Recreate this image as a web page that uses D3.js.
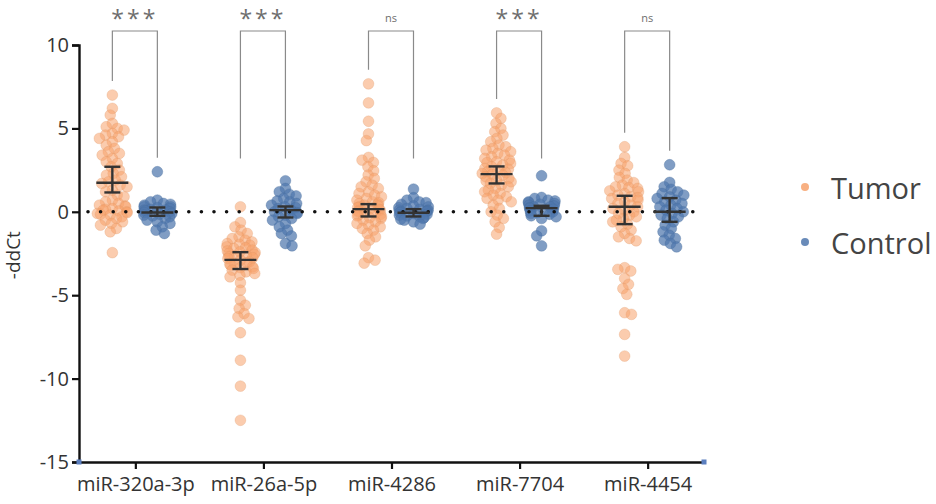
<!DOCTYPE html>
<html>
<head>
<meta charset="utf-8">
<script src="https://cdn.jsdelivr.net/npm/d3@7"></script>
<style>
  body { margin: 0; background: #fff; }
  svg { display: block; font-family: "Open Sans", "Noto Sans", sans-serif; }
</style>
</head>
<body>
<div id="chart"></div>
<script>
const categories = ["miR-320a-3p", "miR-26a-5p", "miR-4286", "miR-7704", "miR-4454"];
const significance = ["***", "***", "ns", "***", "ns"];
const yTicks = [-15, -10, -5, 0, 5, 10];

// -ddCt values
const tumor = [
  [7.0, 6.2, 5.8, 5.3, 5.1, 5.0, 4.9, 4.7, 4.6, 4.5, 4.4, 4.2, 4.0, 3.8, 3.6, 3.5, 3.4, 3.2, 3.0, 2.9, 2.7, 2.5, 2.3, 2.2, 2.1, 1.9, 1.8, 1.7, 1.6, 1.5, 1.3, 1.2, 1.0, 0.9, 0.7, 0.6, 0.5, 0.4, 0.35, 0.3, 0.2, 0.15, 0.1, 0.05, 0.0, -0.05, -0.1, -0.15, -0.2, -0.3, -0.4, -0.5, -0.6, -0.7, -0.8, -1.0, -1.2, -2.45],
  [0.3, -0.64, -0.9, -1.1, -1.3, -1.5, -1.6, -1.7, -1.8, -1.9, -1.95, -2.0, -2.1, -2.15, -2.2, -2.3, -2.35, -2.4, -2.45, -2.5, -2.55, -2.6, -2.65, -2.7, -2.75, -2.8, -2.9, -3.0, -3.05, -3.1, -3.15, -3.2, -3.3, -3.35, -3.4, -3.5, -3.6, -3.7, -3.8, -3.9, -4.25, -4.7, -5.3, -5.6, -5.8, -6.1, -6.3, -6.4, -7.25, -8.9, -10.45, -12.5],
  [7.67, 6.53, 5.43, 4.67, 4.27, 3.26, 3.1, 2.96, 2.7, 2.46, 2.2, 2.0, 1.8, 1.6, 1.5, 1.4, 1.2, 1.1, 1.0, 0.9, 0.8, 0.7, 0.6, 0.55, 0.5, 0.45, 0.4, 0.35, 0.3, 0.25, 0.2, 0.15, 0.1, 0.05, 0.0, -0.05, -0.1, -0.15, -0.2, -0.25, -0.3, -0.35, -0.4, -0.5, -0.6, -0.7, -0.8, -0.9, -1.0, -1.1, -1.3, -1.5, -1.7, -2.04, -2.75, -2.9, -3.08],
  [5.93, 5.6, 5.3, 5.0, 4.8, 4.6, 4.4, 4.2, 4.0, 3.9, 3.8, 3.7, 3.6, 3.5, 3.4, 3.3, 3.2, 3.1, 3.0, 2.95, 2.9, 2.8, 2.7, 2.6, 2.55, 2.5, 2.4, 2.35, 2.3, 2.25, 2.2, 2.1, 2.0, 1.9, 1.85, 1.8, 1.7, 1.6, 1.5, 1.4, 1.3, 1.2, 1.1, 1.0, 0.9, 0.8, 0.7, 0.6, 0.4, 0.2, 0.0, -0.2, -0.4, -0.6, -0.94, -1.34],
  [3.9, 3.26, 2.9, 2.76, 2.5, 2.3, 2.06, 1.9, 1.75, 1.6, 1.5, 1.45, 1.4, 1.26, 1.2, 1.1, 1.0, 0.9, 0.85, 0.8, 0.7, 0.6, 0.5, 0.4, 0.3, 0.2, 0.1, 0.0, -0.1, -0.2, -0.3, -0.4, -0.5, -0.6, -0.74, -0.9, -1.1, -1.3, -1.5, -1.6, -1.74, -3.35, -3.45, -3.55, -4.0, -4.35, -4.6, -4.95, -6.05, -6.15, -7.35, -8.65]
];
const control = [
  [2.4, 0.7, 0.6, 0.5, 0.45, 0.4, 0.3, 0.3, 0.25, 0.2, 0.15, 0.1, 0.1, 0.05, 0.0, -0.05, -0.1, -0.15, -0.2, -0.25, -0.3, -0.4, -0.5, -0.6, -0.7, -0.9, -1.1, -1.3],
  [1.86, 1.4, 1.2, 1.05, 0.95, 0.8, 0.65, 0.6, 0.5, 0.4, 0.3, 0.25, 0.2, 0.1, 0.0, -0.05, -0.1, -0.2, -0.3, -0.4, -0.5, -0.7, -0.9, -1.1, -1.3, -1.45, -1.9, -2.04],
  [1.36, 0.85, 0.7, 0.6, 0.55, 0.45, 0.35, 0.3, 0.25, 0.2, 0.15, 0.1, 0.1, 0.05, 0.0, 0.0, -0.05, -0.1, -0.15, -0.2, -0.25, -0.3, -0.35, -0.4, -0.45, -0.5, -0.6, -0.74],
  [2.16, 0.86, 0.8, 0.7, 0.65, 0.6, 0.55, 0.5, 0.45, 0.4, 0.35, 0.3, 0.3, 0.25, 0.2, 0.15, 0.1, 0.05, 0.0, -0.05, -0.1, -0.15, -0.24, -0.3, -0.4, -1.14, -1.44, -2.04],
  [2.82, 1.76, 1.5, 1.35, 1.2, 1.1, 1.0, 0.9, 0.8, 0.7, 0.6, 0.5, 0.4, 0.3, 0.2, 0.1, 0.0, -0.1, -0.2, -0.3, -0.4, -0.6, -0.8, -1.0, -1.2, -1.4, -1.6, -1.7, -1.9, -2.1]
];

// median line and 95% CI caps
const tumorMid = [1.74, -2.88, 0.16, 2.26, 0.3];
const tumorLo  = [1.16, -3.43, -0.28, 1.7, -0.74];
const tumorHi  = [2.7, -2.42, 0.46, 2.72, 0.96];
const controlMid = [-0.04, 0.1, -0.06, 0.22, 0.0];
const controlLo  = [-0.24, -0.34, -0.28, -0.24, -0.6];
const controlHi  = [0.26, 0.32, 0.16, 0.36, 0.82];

const width = 936, height = 504;
const svg = d3.select("#chart").append("svg")
  .attr("width", width)
  .attr("height", height);

const x = d3.scalePoint()
  .domain(categories)
  .range([79, 704])
  .padding(0.44);

const y = d3.scaleLinear()
  .domain([-15, 10])
  .range([462, 45]);

const tumorColor = "#f7a26c";
const controlColor = "#4f77ad";
const groupOffset = {tumor: -23, control: 22};
const maxSpread = 15;

// simple beeswarm, points allowed to overlap a bit and kept within maxSpread
function swarm(values, d) {
  const placed = [];
  const sorted = values.slice().sort((a, b) => b - a);
  sorted.forEach((v, k) => {
    const py = y(v);
    const blocks = [];
    placed.forEach(p => {
      const dy = Math.abs(p.py - py);
      if (dy < d) {
        const w = Math.sqrt(d * d - dy * dy);
        blocks.push([p.dx - w, p.dx + w]);
      }
    });
    const cands = [0];
    blocks.forEach(b => { cands.push(b[0], b[1]); });
    cands.sort((a, b) => Math.abs(a) - Math.abs(b) || (k % 2 ? b - a : a - b));
    let dx = 0;
    for (const c of cands) {
      if (blocks.every(b => c <= b[0] + 1e-6 || c >= b[1] - 1e-6)) { dx = c; break; }
    }
    placed.push({v, py, dx});
  });
  placed.forEach(p => {
    if (Math.abs(p.dx) > maxSpread) {
      p.dx = Math.sign(p.dx) * (maxSpread - (Math.abs(p.dx) % 6));
    }
  });
  return placed;
}

// points
function drawGroup(data, key, color, opacity) {
  data.forEach((vals, i) => {
    const cx = x(categories[i]) + groupOffset[key];
    const pts = swarm(vals, 7);
    svg.append("g")
      .selectAll("circle")
      .data(pts)
      .join("circle")
      .attr("cx", d => cx + d.dx)
      .attr("cy", d => d.py)
      .attr("r", 5.4)
      .attr("fill", color)
      .attr("fill-opacity", opacity)
      .attr("stroke", d3.color(color).darker(0.3))
      .attr("stroke-opacity", opacity * 0.6)
      .attr("stroke-width", 0.8);
  });
}
drawGroup(tumor, "tumor", tumorColor, 0.55);
drawGroup(control, "control", controlColor, 0.72);

// y = 0 dotted line
svg.append("line")
  .attr("x1", 88).attr("x2", 704)
  .attr("y1", y(0)).attr("y2", y(0))
  .attr("stroke", "#111")
  .attr("stroke-width", 3.6)
  .attr("stroke-linecap", "round")
  .attr("stroke-dasharray", "0 12.6");

// median and CI
function drawSummary(mid, lo, hi, key) {
  const g = svg.append("g").attr("stroke", "#333").attr("stroke-width", 2.4);
  categories.forEach((c, i) => {
    const cx = x(c) + groupOffset[key];
    g.append("line").attr("x1", cx - 16).attr("x2", cx + 16)
      .attr("y1", y(mid[i])).attr("y2", y(mid[i]));
    g.append("line").attr("x1", cx).attr("x2", cx)
      .attr("y1", y(lo[i])).attr("y2", y(hi[i]));
    [lo[i], hi[i]].forEach(v => {
      g.append("line").attr("x1", cx - 8).attr("x2", cx + 8)
        .attr("y1", y(v)).attr("y2", y(v));
    });
  });
}
drawSummary(tumorMid, tumorLo, tumorHi, "tumor");
drawSummary(controlMid, controlLo, controlHi, "control");

// significance brackets
const bracketTop = 31;
categories.forEach((c, i) => {
  const x1 = x(c) + groupOffset.tumor;
  const x2 = x(c) + groupOffset.control;
  const end1 = Math.min(y(d3.max(tumor[i])) - 14, y(3.2));
  const end2 = Math.min(y(d3.max(control[i])) - 14, y(3.2));
  svg.append("path")
    .attr("d", `M${x1},${end1}V${bracketTop}H${x2}V${end2}`)
    .attr("fill", "none")
    .attr("stroke", "#8a8a8a")
    .attr("stroke-width", 1.2);
  const star = significance[i] === "***";
  svg.append("text")
    .attr("x", (x1 + x2) / 2)
    .attr("y", star ? 27 : 22)
    .attr("text-anchor", "middle")
    .attr("fill", "#6e6e6e")
    .attr("font-size", star ? 23 : 11)
    .attr("letter-spacing", star ? 3 : 0)
    .text(significance[i]);
});

// axes
const yAxis = d3.axisLeft(y).tickValues(yTicks).tickSize(7).tickPadding(3)
  .tickFormat(d => String(d));
svg.append("g")
  .attr("transform", "translate(79,0)")
  .call(yAxis)
  .call(g => g.select(".domain").attr("stroke", "#111").attr("stroke-width", 2.4))
  .call(g => g.selectAll(".tick line").attr("stroke", "#111").attr("stroke-width", 2.2))
  .call(g => g.selectAll(".tick text")
    .attr("font-size", 20)
    .attr("fill", "#333")
    .attr("font-family", "'Open Sans', sans-serif"));

const xAxis = d3.axisBottom(x).tickSize(7).tickPadding(8).tickSizeOuter(0);
svg.append("g")
  .attr("transform", "translate(0,462)")
  .call(xAxis)
  .call(g => g.select(".domain").attr("stroke", "#111").attr("stroke-width", 2.4))
  .call(g => g.selectAll(".tick line").attr("stroke", "#111").attr("stroke-width", 2.2))
  .call(g => g.selectAll(".tick text")
    .attr("font-size", 20)
    .attr("fill", "#333")
    .attr("font-family", "'Open Sans', sans-serif"));

// end markers on the axis corners
[79, 704].forEach(px => {
  svg.append("rect")
    .attr("x", px - 2.5).attr("y", 459.5)
    .attr("width", 5).attr("height", 5)
    .attr("fill", "#5b7fbf");
});

// y label
svg.append("text")
  .attr("transform", `translate(20,${y(-2.6)}) rotate(-90)`)
  .attr("text-anchor", "middle")
  .attr("font-size", 19)
  .attr("fill", "#333")
  .text("-ddCt");

// legend
const legend = [["Tumor", tumorColor], ["Control", controlColor]];
legend.forEach(([name, col], i) => {
  const ly = 187 + i * 55;
  svg.append("circle")
    .attr("cx", 805).attr("cy", ly).attr("r", 4)
    .attr("fill", col).attr("fill-opacity", 0.85);
  svg.append("text")
    .attr("x", 831).attr("y", ly)
    .attr("dominant-baseline", "central")
    .attr("font-size", 29)
    .attr("fill", "#444")
    .text(name);
});
</script>
</body>
</html>
